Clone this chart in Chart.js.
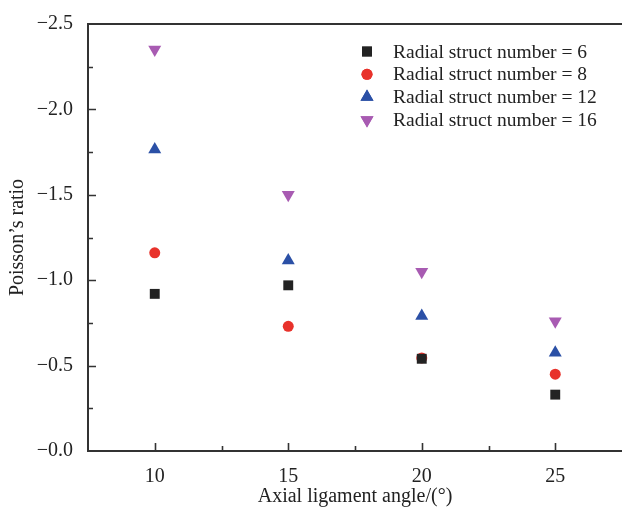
<!DOCTYPE html>
<html>
<head>
<meta charset="utf-8">
<script src="https://cdn.jsdelivr.net/npm/chart.js"></script>
<style>
html,body{margin:0;padding:0;background:#fff;overflow:hidden;}
#wrap{width:622px;height:517px;}
canvas{display:block;}
</style>
</head>
<body>
<div id="wrap"><canvas id="c" width="622" height="517"></canvas></div>
<script>
const angles = [10, 15, 20, 25];
const struct6  = [-0.92, -0.97, -0.54, -0.33];
const struct8  = [-1.16, -0.73, -0.545, -0.45];
const struct12 = [-1.765, -1.115, -0.79, -0.575];
const struct16 = [-2.35, -1.50, -1.05, -0.76];
const seriesLabels = ['Radial struct number = 6','Radial struct number = 8','Radial struct number = 12','Radial struct number = 16'];
const yTickLabels = ['−2.5','−2.0','−1.5','−1.0','−0.5','−0.0'];
const xTickLabels = ['10','15','20','25'];

const FONT = "'Liberation Serif', 'Times New Roman', serif";
const AXIS = '#333333';

function pts(ys){ return angles.map((a,i)=>({x:a,y:ys[i]})); }

const datasets = [
  {label:seriesLabels[0], data:pts(struct6),  pointStyle:'rect',     pointRadius:7,   backgroundColor:'#232323', borderColor:'#232323', rotation:0},
  {label:seriesLabels[1], data:pts(struct8),  pointStyle:'circle',   pointRadius:5.5, backgroundColor:'#e8322b', borderColor:'#e8322b', rotation:0},
  {label:seriesLabels[2], data:pts(struct12), pointStyle:'triangle', pointRadius:7.5, backgroundColor:'#2b50a6', borderColor:'#2b50a6', rotation:0},
  {label:seriesLabels[3], data:pts(struct16), pointStyle:'triangle', pointRadius:7.5, backgroundColor:'#a85bb2', borderColor:'#a85bb2', rotation:180}
].map(d=>Object.assign(d,{borderWidth:0, pointHoverRadius:d.pointRadius, showLine:false}));

function fmtY(v){
  const r = Math.round(v*100)/100;
  if (Math.abs(Math.round(r*2) - r*2) > 1e-6) return '';
  return '−' + Math.abs(r).toFixed(1);
}
function fmtX(v){
  const r = Math.round(v*10)/10;
  if (Math.abs(r % 5) > 1e-6) return '';
  return String(r);
}

function drawMarker(ctx, style, r, rot, x, y, color){
  ctx.save();
  ctx.fillStyle = color;
  ctx.strokeStyle = color;
  if (Chart.helpers && Chart.helpers.drawPoint){
    Chart.helpers.drawPoint(ctx, {pointStyle:style, radius:r, rotation:rot, borderWidth:0}, x, y);
    ctx.fill();
  }
  ctx.restore();
}

const framePlugin = {
  id:'frame',
  afterDraw(chart){
    const ctx = chart.ctx;
    const a = chart.chartArea;
    const xs = chart.scales.x, ys = chart.scales.y;
    ctx.save();
    ctx.strokeStyle = AXIS;
    ctx.lineWidth = 2;
    ctx.beginPath();
    ctx.moveTo(a.left, a.bottom); ctx.lineTo(a.left, a.top); ctx.lineTo(a.right+2, a.top);
    ctx.moveTo(a.left-1, a.bottom); ctx.lineTo(a.right+2, a.bottom);
    ctx.stroke();
    ctx.lineWidth = 1.6;
    ctx.beginPath();
    xs.ticks.forEach(t=>{
      const px = Math.round(xs.getPixelForValue(t.value))+0.5;
      if (px <= a.left+1 || px >= a.right-1) return;
      const major = Math.abs(t.value % 5) < 1e-6;
      ctx.moveTo(px, a.bottom); ctx.lineTo(px, a.bottom - (major?8:5));
    });
    ys.ticks.forEach(t=>{
      const py = Math.round(ys.getPixelForValue(t.value))+0.5;
      if (py <= a.top+1 || py >= a.bottom-1) return;
      const major = Math.abs(Math.round(t.value*2) - t.value*2) < 1e-6;
      ctx.moveTo(a.left, py); ctx.lineTo(a.left + (major?8:5), py);
    });
    ctx.stroke();
    // legend
    const lx = 367, tx = 393, y0 = 51.5, dy = 22.8;
    ctx.font = '19.5px ' + FONT;
    ctx.textBaseline = 'middle';
    ctx.textAlign = 'left';
    chart.data.datasets.forEach((d,i)=>{
      const y = y0 + i*dy;
      drawMarker(ctx, d.pointStyle, d.pointRadius, d.rotation, lx, y, d.backgroundColor);
      ctx.fillStyle = '#222';
      ctx.fillText(d.label, tx, y+1);
    });
    ctx.restore();
  }
};

new Chart(document.getElementById('c'), {
  type:'scatter',
  data:{datasets},
  plugins:[framePlugin],
  options:{
    responsive:false,
    animation:false,
    devicePixelRatio:1,
    layout:{autoPadding:false, padding:{top:24,right:0,left:0,bottom:0}},
    plugins:{legend:{display:false}, tooltip:{enabled:false}},
    scales:{
      x:{
        type:'linear', min:7.5, max:27.5,
        afterFit(s){ s.height = 66; s.paddingRight = 0; s.paddingLeft = 0; },
        afterBuildTicks(s){ s.ticks = [7.5,10,12.5,15,17.5,20,22.5,25,27.5].map(v=>({value:v})); },
        grid:{display:false, drawTicks:false},
        border:{display:false},
        ticks:{padding:14, color:'#222', font:{family:FONT, size:20}, maxRotation:0, autoSkip:false,
          callback:(v)=>{ const s = fmtX(v); return xTickLabels.includes(s) ? s : ''; }},
        title:{display:true, text:'Axial ligament angle/(°)', color:'#222', font:{family:FONT, size:20}, padding:{top:0,bottom:8}}
      },
      y:{
        type:'linear', min:-2.5, max:0, reverse:true,
        afterFit(s){ s.width = 88; s.paddingTop = 0; s.paddingBottom = 0; },
        afterBuildTicks(s){ s.ticks = [-2.5,-2.25,-2,-1.75,-1.5,-1.25,-1,-0.75,-0.5,-0.25,0].map(v=>({value:v})); },
        grid:{display:false, drawTicks:false},
        border:{display:false},
        ticks:{padding:15, color:'#222', font:{family:FONT, size:20}, autoSkip:false,
          callback:(v)=>{ const s = fmtY(v); return yTickLabels.includes(s) ? s : ''; }},
        title:{display:true, text:'Poisson’s ratio', color:'#222', font:{family:FONT, size:20}, padding:{top:6,bottom:0}}
      }
    }
  }
});
</script>
</body>
</html>
